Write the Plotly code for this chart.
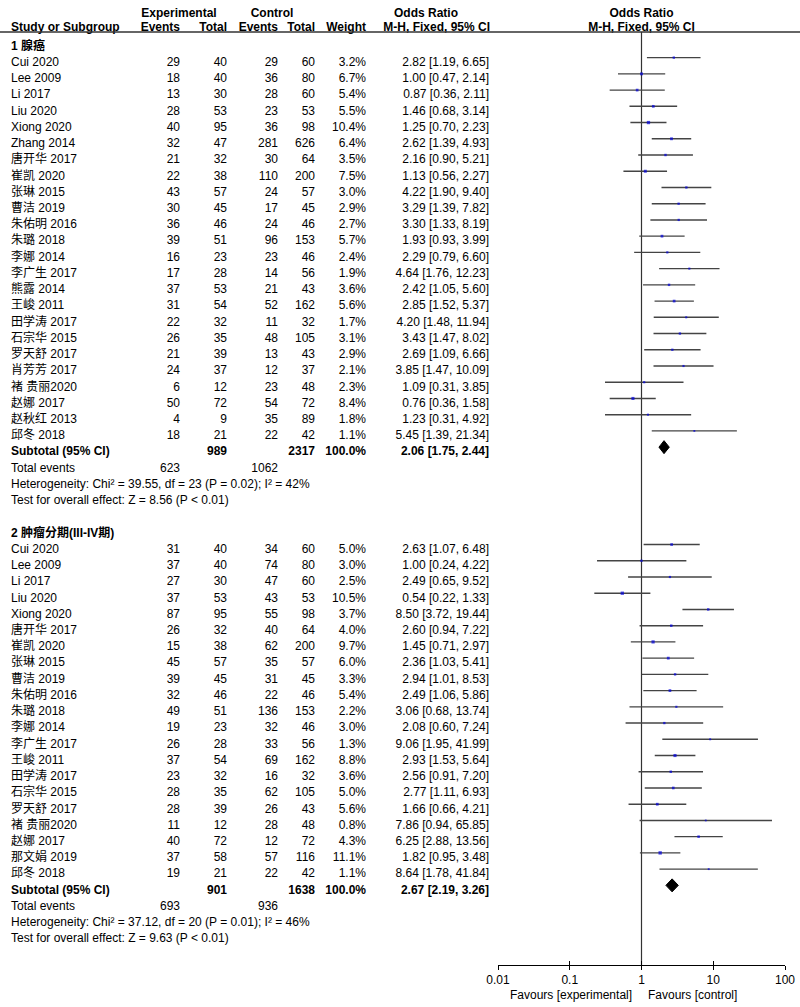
import plotly.graph_objects as go

FONT = "Liberation Sans, Arial, Noto Sans CJK SC, sans-serif"

# ---------------- data ----------------
g1_title = "1 腺癌"
g1_names = ["Cui 2020", "Lee 2009", "Li 2017", "Liu 2020", "Xiong 2020", "Zhang 2014",
            "唐开华 2017", "崔凯 2020", "张琳 2015", "曹洁 2019", "朱佑明 2016", "朱璐 2018",
            "李娜 2014", "李广生 2017", "熊露 2014", "王峻 2011", "田学涛 2017", "石宗华 2015",
            "罗天舒 2017", "肖芳芳 2017", "褚 贵丽2020", "赵娜 2017", "赵秋红 2013", "邱冬 2018"]
g1_ev_e = [29, 18, 13, 28, 40, 32, 21, 22, 43, 30, 36, 39, 16, 17, 37, 31, 22, 26, 21, 24, 6, 50, 4, 18]
g1_tot_e = [40, 40, 30, 53, 95, 47, 32, 38, 57, 45, 46, 51, 23, 28, 53, 54, 32, 35, 39, 37, 12, 72, 9, 21]
g1_ev_c = [29, 36, 28, 23, 36, 281, 30, 110, 24, 17, 24, 96, 23, 14, 21, 52, 11, 48, 13, 12, 23, 54, 35, 22]
g1_tot_c = [60, 80, 60, 53, 98, 626, 64, 200, 57, 45, 46, 153, 46, 56, 43, 162, 32, 105, 43, 37, 48, 72, 89, 42]
g1_weight = [3.2, 6.7, 5.4, 5.5, 10.4, 6.4, 3.5, 7.5, 3.0, 2.9, 2.7, 5.7, 2.4, 1.9, 3.6, 5.6, 1.7, 3.1, 2.9, 2.1, 2.3, 8.4, 1.8, 1.1]
g1_or = [2.82, 1.00, 0.87, 1.46, 1.25, 2.62, 2.16, 1.13, 4.22, 3.29, 3.30, 1.93, 2.29, 4.64, 2.42, 2.85, 4.20, 3.43, 2.69, 3.85, 1.09, 0.76, 1.23, 5.45]
g1_lo = [1.19, 0.47, 0.36, 0.68, 0.70, 1.39, 0.90, 0.56, 1.90, 1.39, 1.33, 0.93, 0.79, 1.76, 1.05, 1.52, 1.48, 1.47, 1.09, 1.47, 0.31, 0.36, 0.31, 1.39]
g1_hi = [6.65, 2.14, 2.11, 3.14, 2.23, 4.93, 5.21, 2.27, 9.40, 7.82, 8.19, 3.99, 6.60, 12.23, 5.60, 5.37, 11.94, 8.02, 6.66, 10.09, 3.85, 1.58, 4.92, 21.34]
g1_sub_tot = [989, 2317]
g1_sub_ci = [2.06, 1.75, 2.44]
g1_events = [623, 1062]
g1_het = "Heterogeneity: Chi² = 39.55, df = 23 (P = 0.02); I² = 42%"
g1_test = "Test for overall effect: Z = 8.56 (P < 0.01)"

g2_title = "2 肿瘤分期(III-IV期)"
g2_names = ["Cui 2020", "Lee 2009", "Li 2017", "Liu 2020", "Xiong 2020", "唐开华 2017",
            "崔凯 2020", "张琳 2015", "曹洁 2019", "朱佑明 2016", "朱璐 2018", "李娜 2014",
            "李广生 2017", "王峻 2011", "田学涛 2017", "石宗华 2015", "罗天舒 2017", "褚 贵丽2020",
            "赵娜 2017", "那文娟 2019", "邱冬 2018"]
g2_ev_e = [31, 37, 27, 37, 87, 26, 15, 45, 39, 32, 49, 19, 26, 37, 23, 28, 28, 11, 40, 37, 19]
g2_tot_e = [40, 40, 30, 53, 95, 32, 38, 57, 45, 46, 51, 23, 28, 54, 32, 35, 39, 12, 72, 58, 21]
g2_ev_c = [34, 74, 47, 43, 55, 40, 62, 35, 31, 22, 136, 32, 33, 69, 16, 62, 26, 28, 12, 57, 22]
g2_tot_c = [60, 80, 60, 53, 98, 64, 200, 57, 45, 46, 153, 46, 56, 162, 32, 105, 43, 48, 72, 116, 42]
g2_weight = [5.0, 3.0, 2.5, 10.5, 3.7, 4.0, 9.7, 6.0, 3.3, 5.4, 2.2, 3.0, 1.3, 8.8, 3.6, 5.0, 5.6, 0.8, 4.3, 11.1, 1.1]
g2_or = [2.63, 1.00, 2.49, 0.54, 8.50, 2.60, 1.45, 2.36, 2.94, 2.49, 3.06, 2.08, 9.06, 2.93, 2.56, 2.77, 1.66, 7.86, 6.25, 1.82, 8.64]
g2_lo = [1.07, 0.24, 0.65, 0.22, 3.72, 0.94, 0.71, 1.03, 1.01, 1.06, 0.68, 0.60, 1.95, 1.53, 0.91, 1.11, 0.66, 0.94, 2.88, 0.95, 1.78]
g2_hi = [6.48, 4.22, 9.52, 1.33, 19.44, 7.22, 2.97, 5.41, 8.53, 5.86, 13.74, 7.24, 41.99, 5.64, 7.20, 6.93, 4.21, 65.85, 13.56, 3.48, 41.84]
g2_sub_tot = [901, 1638]
g2_sub_ci = [2.67, 2.19, 3.26]
g2_events = [693, 936]
g2_het = "Heterogeneity: Chi² = 37.12, df = 20 (P = 0.01); I² = 46%"
g2_test = "Test for overall effect: Z = 9.63 (P < 0.01)"

axis_ticks = [0.01, 0.1, 1, 10, 100]
axis_ticktext = ["0.01", "0.1", "1", "10", "100"]
fav_left = "Favours [experimental]"
fav_right = "Favours [control]"

# ---------------- layout constants ----------------
W, H = 800, 1007
ROW0, ROWH = 45.4, 16.23          # pixel of first row centre, row height
MARK_SHIFT = 4.0 / ROWH           # marks sit a little above the text centre
TEXT_SHIFT = 1.3 / ROWH
AX_PX = 965                       # axis line pixel
TOPLINE_PX = 32
X_NAME, X_EV_E, X_TOT_E, X_EV_C, X_TOT_C, X_W, X_CI = 11, 180, 227, 278, 315, 366, 489
PLOT_L, PLOT_R = 498, 785


def prow(px):
    return (px - ROW0) / ROWH


groups = [
    dict(title=g1_title, names=g1_names, ev_e=g1_ev_e, tot_e=g1_tot_e, ev_c=g1_ev_c, tot_c=g1_tot_c,
         w=g1_weight, orr=g1_or, lo=g1_lo, hi=g1_hi, sub_tot=g1_sub_tot, sub_ci=g1_sub_ci,
         events=g1_events, het=g1_het, test=g1_test),
    dict(title=g2_title, names=g2_names, ev_e=g2_ev_e, tot_e=g2_tot_e, ev_c=g2_ev_c, tot_c=g2_tot_c,
         w=g2_weight, orr=g2_or, lo=g2_lo, hi=g2_hi, sub_tot=g2_sub_tot, sub_ci=g2_sub_ci,
         events=g2_events, het=g2_het, test=g2_test),
]

cols = {k: ([], []) for k in ["name", "ev_e", "tot_e", "ev_c", "tot_c", "w", "ci"]}


def add(col, r, txt):
    cols[col][0].append(r)
    cols[col][1].append(txt)


ci_x, ci_y = [], []
sq_x, sq_y, sq_s = [], [], []
dia_x, dia_y = [], []

r = 0
for g in groups:
    add("name", r, "<b>%s</b>" % g["title"])
    r += 1
    for i, nm in enumerate(g["names"]):
        add("name", r, nm)
        add("ev_e", r, str(g["ev_e"][i]))
        add("tot_e", r, str(g["tot_e"][i]))
        add("ev_c", r, str(g["ev_c"][i]))
        add("tot_c", r, str(g["tot_c"][i]))
        add("w", r, "%.1f%%" % g["w"][i])
        add("ci", r, "%.2f [%.2f, %.2f]" % (g["orr"][i], g["lo"][i], g["hi"][i]))
        ym = r - MARK_SHIFT
        ci_x += [g["lo"][i], g["hi"][i], None]
        ci_y += [ym, ym, None]
        sq_x.append(g["orr"][i])
        sq_y.append(ym)
        sq_s.append(1.2 + 0.65 * g["w"][i] ** 0.5)
        r += 1
    # subtotal
    add("name", r, "<b>Subtotal (95% CI)</b>")
    add("tot_e", r, "<b>%d</b>" % g["sub_tot"][0])
    add("tot_c", r, "<b>%d</b>" % g["sub_tot"][1])
    add("w", r, "<b>100.0%</b>")
    add("ci", r, "<b>%.2f [%.2f, %.2f]</b>" % tuple(g["sub_ci"]))
    ym = r - MARK_SHIFT
    est, lo, hi = g["sub_ci"]
    dh = 6.5 / ROWH
    dia_x += [lo, est, hi, est, lo, None]
    dia_y += [ym, ym - dh, ym, ym + dh, ym, None]
    r += 1
    add("name", r, "Total events")
    add("ev_e", r, str(g["events"][0]))
    add("ev_c", r, str(g["events"][1]))
    r += 1
    add("name", r, g["het"])
    r += 1
    add("name", r, g["test"])
    r += 2

fig = go.Figure()

col_x = {"name": X_NAME, "ev_e": X_EV_E, "tot_e": X_TOT_E, "ev_c": X_EV_C,
         "tot_c": X_TOT_C, "w": X_W, "ci": X_CI}
for k, (ys, ts) in cols.items():
    fig.add_trace(go.Scatter(
        x=[col_x[k]] * len(ys), y=[y + TEXT_SHIFT for y in ys], text=ts, mode="text",
        textposition="middle right" if k == "name" else "middle left",
        textfont=dict(family=FONT, size=12, color="#000"),
        xaxis="x", yaxis="y", cliponaxis=False, hoverinfo="skip", showlegend=False))

# header texts
hdr1_y, hdr2_y = prow(12.3) + TEXT_SHIFT, prow(26.7) + TEXT_SHIFT
hdr_items = [
    (179, hdr1_y, "Experimental", "middle center"),
    (272, hdr1_y, "Control", "middle center"),
    (426, hdr1_y, "Odds Ratio", "middle center"),
    (X_NAME, hdr2_y, "Study or Subgroup", "middle right"),
    (X_EV_E, hdr2_y, "Events", "middle left"),
    (X_TOT_E, hdr2_y, "Total", "middle left"),
    (X_EV_C, hdr2_y, "Events", "middle left"),
    (X_TOT_C, hdr2_y, "Total", "middle left"),
    (X_W, hdr2_y, "Weight", "middle left"),
    (490, hdr2_y, "M-H, Fixed, 95% CI", "middle left"),
]
for x, y, t, pos in hdr_items:
    fig.add_trace(go.Scatter(x=[x], y=[y], text=["<b>%s</b>" % t], mode="text", textposition=pos,
                             textfont=dict(family=FONT, size=12, color="#000"),
                             xaxis="x", yaxis="y", cliponaxis=False, hoverinfo="skip", showlegend=False))
fig.add_trace(go.Scatter(x=[1, 1], y=[hdr1_y, hdr2_y], text=["<b>Odds Ratio</b>", "<b>M-H, Fixed, 95% CI</b>"],
                         mode="text", textposition="middle center",
                         textfont=dict(family=FONT, size=12, color="#000"),
                         xaxis="x2", yaxis="y", cliponaxis=False, hoverinfo="skip", showlegend=False))

# null line
fig.add_trace(go.Scatter(x=[1, 1], y=[prow(TOPLINE_PX), prow(AX_PX)], mode="lines",
                         line=dict(color="#333", width=1.2), xaxis="x2", yaxis="y",
                         cliponaxis=False, hoverinfo="skip", showlegend=False))
# CI lines
fig.add_trace(go.Scatter(x=ci_x, y=ci_y, mode="lines", line=dict(color="#444", width=1.4),
                         xaxis="x2", yaxis="y", cliponaxis=False, hoverinfo="skip", showlegend=False))
# squares
fig.add_trace(go.Scatter(x=sq_x, y=sq_y, mode="markers",
                         marker=dict(symbol="square", size=sq_s, color="#0000DD", line=dict(width=0)),
                         xaxis="x2", yaxis="y", cliponaxis=False, hoverinfo="skip", showlegend=False))
# diamonds
fig.add_trace(go.Scatter(x=dia_x, y=dia_y, mode="lines", fill="toself", fillcolor="#000",
                         line=dict(color="#000", width=1), xaxis="x2", yaxis="y",
                         cliponaxis=False, hoverinfo="skip", showlegend=False))
# invisible trace so the overlay tick axis is drawn
fig.add_trace(go.Scatter(x=[1], y=[prow(AX_PX)], mode="markers", marker=dict(opacity=0),
                         xaxis="x3", yaxis="y", hoverinfo="skip", showlegend=False))

ax_pos = (H - AX_PX) / H
dom = [PLOT_L / W, PLOT_R / W]
fig.update_layout(
    template="none",
    width=W, height=H, margin=dict(l=0, r=0, t=0, b=0, pad=0, autoexpand=False),
    paper_bgcolor="white", plot_bgcolor="rgba(0,0,0,0)", hovermode=False,
    font=dict(family=FONT, size=12, color="#000"),
    xaxis=dict(range=[0, W], domain=[0, 1], visible=False, fixedrange=True, automargin=False),
    yaxis=dict(range=[prow(H), prow(0)], domain=[0, 1], visible=False, fixedrange=True, automargin=False),
    xaxis2=dict(type="log", range=[-2, 2], domain=dom, anchor="free", position=ax_pos,
                showline=True, linecolor="#000", linewidth=1, ticks="outside", ticklen=4,
                tickcolor="#000", tickwidth=1, tickvals=axis_ticks, ticktext=axis_ticktext,
                tickfont=dict(family=FONT, size=12, color="#000"), showgrid=False,
                zeroline=False, fixedrange=True, ticklabelstandoff=0, automargin=False),
    xaxis3=dict(type="log", range=[-2, 2], domain=dom, anchor="free", position=ax_pos,
                overlaying="x2", showline=False, ticks="inside", ticklen=4, tickcolor="#000",
                tickwidth=1, tickvals=axis_ticks, showticklabels=False, showgrid=False,
                zeroline=False, fixedrange=True, automargin=False),
    shapes=[dict(type="line", xref="paper", yref="paper", x0=0, x1=1,
                 y0=(H - TOPLINE_PX) / H, y1=(H - TOPLINE_PX) / H,
                 line=dict(color="#333", width=1.5))],
    annotations=[
        dict(text=fav_left, xref="paper", yref="paper", x=633 / W, y=(H - 995) / H,
             xanchor="right", yanchor="middle", showarrow=False, borderpad=0,
             font=dict(family=FONT, size=12, color="#000")),
        dict(text=fav_right, xref="paper", yref="paper", x=647 / W, y=(H - 995) / H,
             xanchor="left", yanchor="middle", showarrow=False, borderpad=0,
             font=dict(family=FONT, size=12, color="#000")),
    ],
)

fig.write_html("out.html", config={"displayModeBar": False},
               post_script="document.body.style.margin='0';")
